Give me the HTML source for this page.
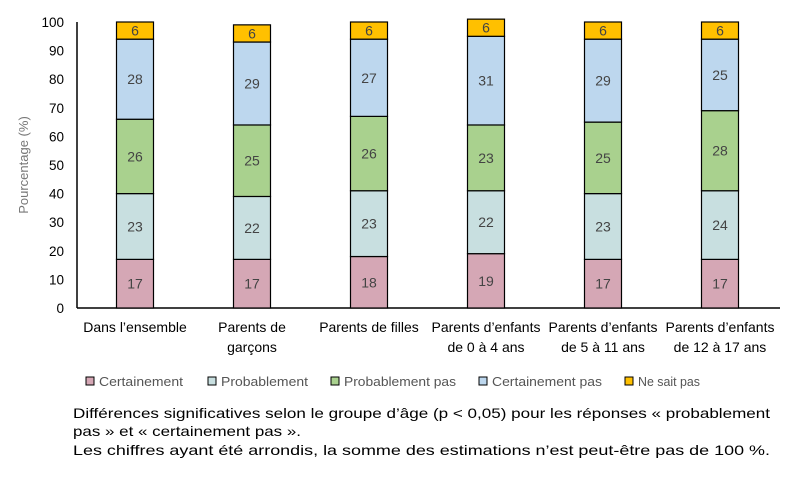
<!DOCTYPE html>
<html><head><meta charset="utf-8"><style>
body{margin:0;background:#fff;width:803px;height:473px;overflow:hidden;font-family:"Liberation Sans",sans-serif}
</style></head><body>
<svg id="chart" width="803" height="473" xmlns="http://www.w3.org/2000/svg">
<g id="yaxis"></g>
<g id="bars"></g>
<g id="xlabels"></g>
<text transform="translate(28,165) rotate(-90)" text-anchor="middle" font-size="13" fill="#777">Pourcentage (%)</text>
<g id="legend"></g>
<g font-size="14" fill="#000">
<text x="73" y="418" textLength="697" lengthAdjust="spacingAndGlyphs">Différences significatives selon le groupe d’âge (p &lt; 0,05) pour les réponses « probablement</text>
<text x="73" y="436" textLength="228" lengthAdjust="spacingAndGlyphs">pas » et « certainement pas ».</text>
<text x="73" y="455" textLength="697" lengthAdjust="spacingAndGlyphs">Les chiffres ayant été arrondis, la somme des estimations n’est peut-être pas de 100 %.</text>
</g>
</svg>
<script>
const categories=[["Dans l’ensemble"],["Parents de","garçons"],["Parents de filles"],["Parents d’enfants","de 0 à 4 ans"],["Parents d’enfants","de 5 à 11 ans"],["Parents d’enfants","de 12 à 17 ans"]];
const seriesNames=["Certainement","Probablement","Probablement pas","Certainement pas","Ne sait pas"];
const certainement=[17,17,18,19,17,17];
const probablement=[23,22,23,22,23,24];
const probablementPas=[26,25,26,23,25,28];
const certainementPas=[28,29,27,31,29,25];
const neSaitPas=[6,6,6,6,6,6];
const yTicks=[0,10,20,30,40,50,60,70,80,90,100];
const series=[certainement,probablement,probablementPas,certainementPas,neSaitPas];
const colors=["#d5a7b5","#c8dfe0","#a9d18e","#bdd7ee","#ffc000"];
const NS="http://www.w3.org/2000/svg";
const y0=308,y1=22,xL=77,xR=780;
const y=v=>y0-(v/100)*(y0-y1);
const xc=i=>135+117*i;
function mk(t,a,p){const e=document.createElementNS(NS,t);for(const k in a)e.setAttribute(k,a[k]);p.appendChild(e);return e;}
const ya=document.getElementById('yaxis');
const axl=mk('line',{x1:xL,x2:xL,y1:y1,y2:y0,stroke:'#000','stroke-width':1.5},ya);

const bl=mk('line',{x1:xL,x2:xR,y1:y0,y2:y0,stroke:'#000','stroke-width':1.5},ya);

yTicks.forEach(t=>{const e=mk('text',{x:64,y:y(t)+5,'text-anchor':'end','font-size':13.5,fill:'#000'},ya);e.textContent=t;
});
const bg=document.getElementById('bars');
categories.forEach((c,i)=>{let cum=0;
 series.forEach((s,j)=>{const v=s[i];const top=y(cum+v),bot=y(cum);
  const r=mk('rect',{x:xc(i)-18.5,y:top,width:37,height:bot-top,fill:colors[j],stroke:'#000','stroke-width':1.2},bg);
  
  const t=mk('text',{x:xc(i),y:(top+bot)/2+5,'text-anchor':'middle','font-size':14,fill:'#444'},bg);t.textContent=v;
  
  cum+=v;});
 const xg=document.getElementById('xlabels');
 c.forEach((ln,k)=>{const t=mk('text',{x:xc(i),y:332+k*20,'text-anchor':'middle','font-size':14,fill:'#000'},xg);t.textContent=ln;
  });
});
const lg=document.getElementById('legend');
const lx=[86,208,331,479,625];
const lw=[84,87,112,110,62];
seriesNames.forEach((n,j)=>{const r=mk('rect',{x:lx[j],y:377,width:8,height:8,fill:colors[j],stroke:'#000','stroke-width':1},lg);
 
 const t=mk('text',{x:lx[j]+13,y:386,'font-size':13,fill:'#555',textLength:lw[j],lengthAdjust:'spacingAndGlyphs'},lg);t.textContent=n;
 });
</script>
</body></html>
